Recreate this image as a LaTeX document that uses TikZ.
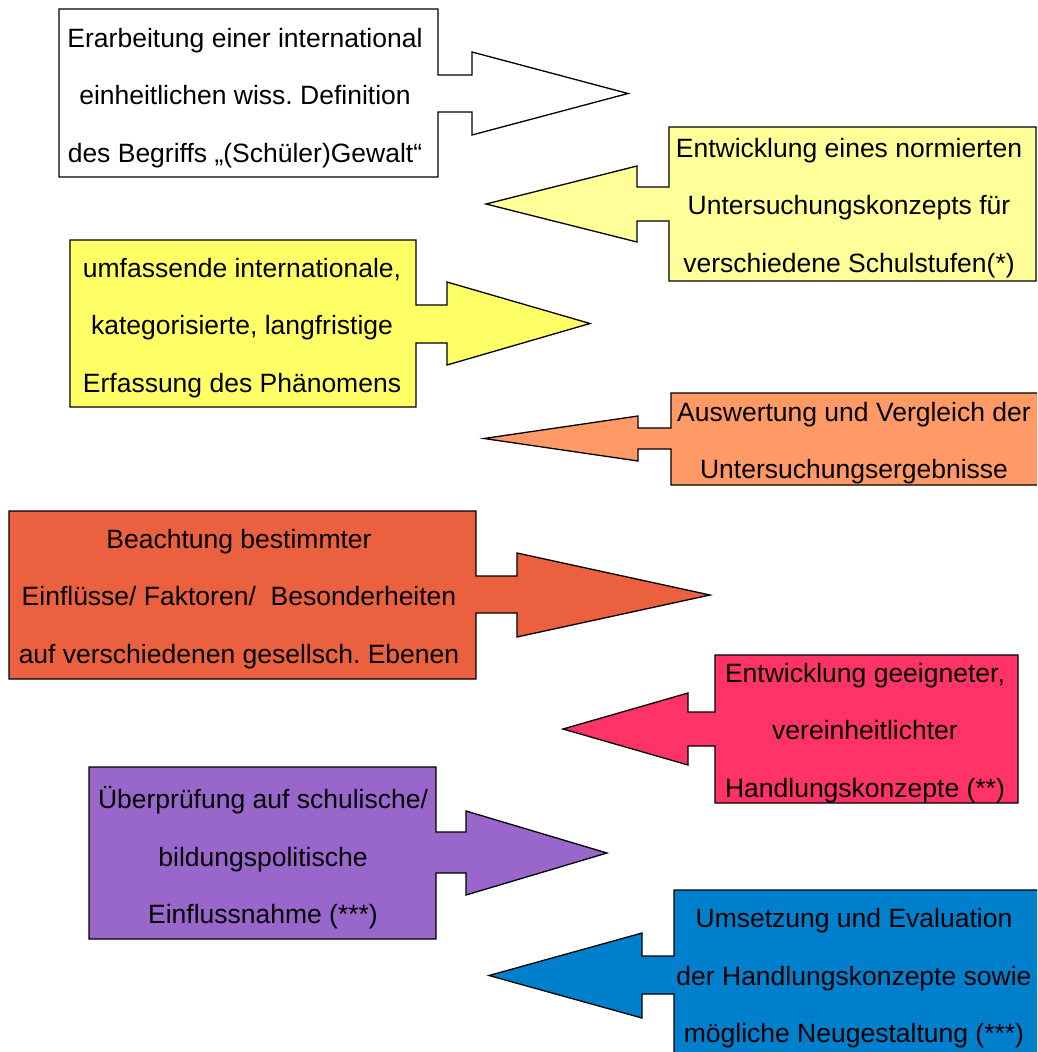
\documentclass[tikz,border=0pt]{standalone}
\usepackage{fontspec}
\setmainfont{Liberation Sans}
\frenchspacing
\definecolor{cWhite}{HTML}{FFFFFF}
\definecolor{cLightYellow}{HTML}{FFFF99}
\definecolor{cYellow}{HTML}{FFFF66}
\definecolor{cOrange}{HTML}{FF9966}
\definecolor{cDarkOrange}{HTML}{EB6140}
\definecolor{cPink}{HTML}{FF3366}
\definecolor{cPurple}{HTML}{9966CC}
\definecolor{cBlue}{HTML}{0080CC}
\tikzset{
  callout/.style={draw=black, line width=1.3pt, line join=miter},
  lbl/.style={align=center, font=\fontsize{26.5}{57.5}\selectfont\frenchspacing, text=black, inner sep=0pt}
}
\begin{document}
\begin{tikzpicture}[x=1pt,y=-1pt]
\useasboundingbox (0,0) rectangle (1037,1052);
\clip (0,0) rectangle (1037,1052);
% 1 white, right arrow
\draw[callout, fill=cWhite] (59,9) -- (438,9) -- (438,75) -- (472,75) -- (472,52) -- (628,93.5) -- (472,135) -- (472,112) -- (438,112) -- (438,177) -- (59,177) -- cycle;
\node[lbl] (t1) at (245,98) {Erarbeitung einer international\\einheitlichen wiss. Definition\\des Begriffs „(Schüler)Gewalt“};
% 2 light yellow, left arrow
\draw[callout, fill=cLightYellow] (669,127) -- (1036,127) -- (1036,281) -- (669,281) -- (669,221) -- (637,221) -- (637,242) -- (486,204) -- (637,166) -- (637,187) -- (669,187) -- cycle;
\node[lbl] (t2) at (849,208) {Entwicklung eines normierten\\Untersuchungskonzepts für\\verschiedene Schulstufen(*)};
% 3 yellow, right arrow
\draw[callout, fill=cYellow] (70,240) -- (416,240) -- (416,305) -- (447,305) -- (447,282) -- (590,323.5) -- (447,365) -- (447,343) -- (416,343) -- (416,407) -- (70,407) -- cycle;
\node[lbl] (t3) at (242,328) {umfassende internationale,\\kategorisierte, langfristige\\Erfassung des Phänomens};
% 4 orange, left arrow
\draw[callout, fill=cOrange] (671,393) -- (1040,393) -- (1040,485) -- (671,485) -- (671,449) -- (638,449) -- (638,461) -- (484,438.5) -- (638,416) -- (638,428) -- (671,428) -- cycle;
\node[lbl] (t4) at (854,443) {Auswertung und Vergleich der\\Untersuchungsergebnisse};
% 5 dark orange, right arrow
\draw[callout, fill=cDarkOrange] (9,511) -- (476,511) -- (476,576) -- (517,576) -- (517,553) -- (710,595) -- (517,637) -- (517,613) -- (476,613) -- (476,679) -- (9,679) -- cycle;
\node[lbl] (t5) at (239,599) {Beachtung bestimmter\\Einflüsse/ Faktoren/\ \ Besonderheiten\\auf verschiedenen gesellsch. Ebenen};
% 6 pink, left arrow
\draw[callout, fill=cPink] (715,655) -- (1018,655) -- (1018,803) -- (715,803) -- (715,746) -- (688,746) -- (688,765) -- (563,729) -- (688,693) -- (688,712) -- (715,712) -- cycle;
\node[lbl] (t6) at (865,733) {Entwicklung geeigneter,\\vereinheitlichter\\Handlungskonzepte (**)};
% 7 purple, right arrow
\draw[callout, fill=cPurple] (89,767) -- (436,767) -- (436,832) -- (466,832) -- (466,811) -- (607,853) -- (466,895) -- (466,873) -- (436,873) -- (436,939) -- (89,939) -- cycle;
\node[lbl] (t7) at (263,858) {Überprüfung auf schulische/\\bildungspolitische\\Einflussnahme (***)};
% 8 blue, left arrow
\draw[callout, fill=cBlue] (674,890) -- (1040,890) -- (1040,1060) -- (674,1060) -- (674,994) -- (642,994) -- (642,1018) -- (489,975.5) -- (642,933) -- (642,956) -- (674,956) -- cycle;
\node[lbl] (t8) at (854,978.5) {Umsetzung und Evaluation\\der Handlungskonzepte sowie\\mögliche Neugestaltung (***)};
\end{tikzpicture}
\end{document}
